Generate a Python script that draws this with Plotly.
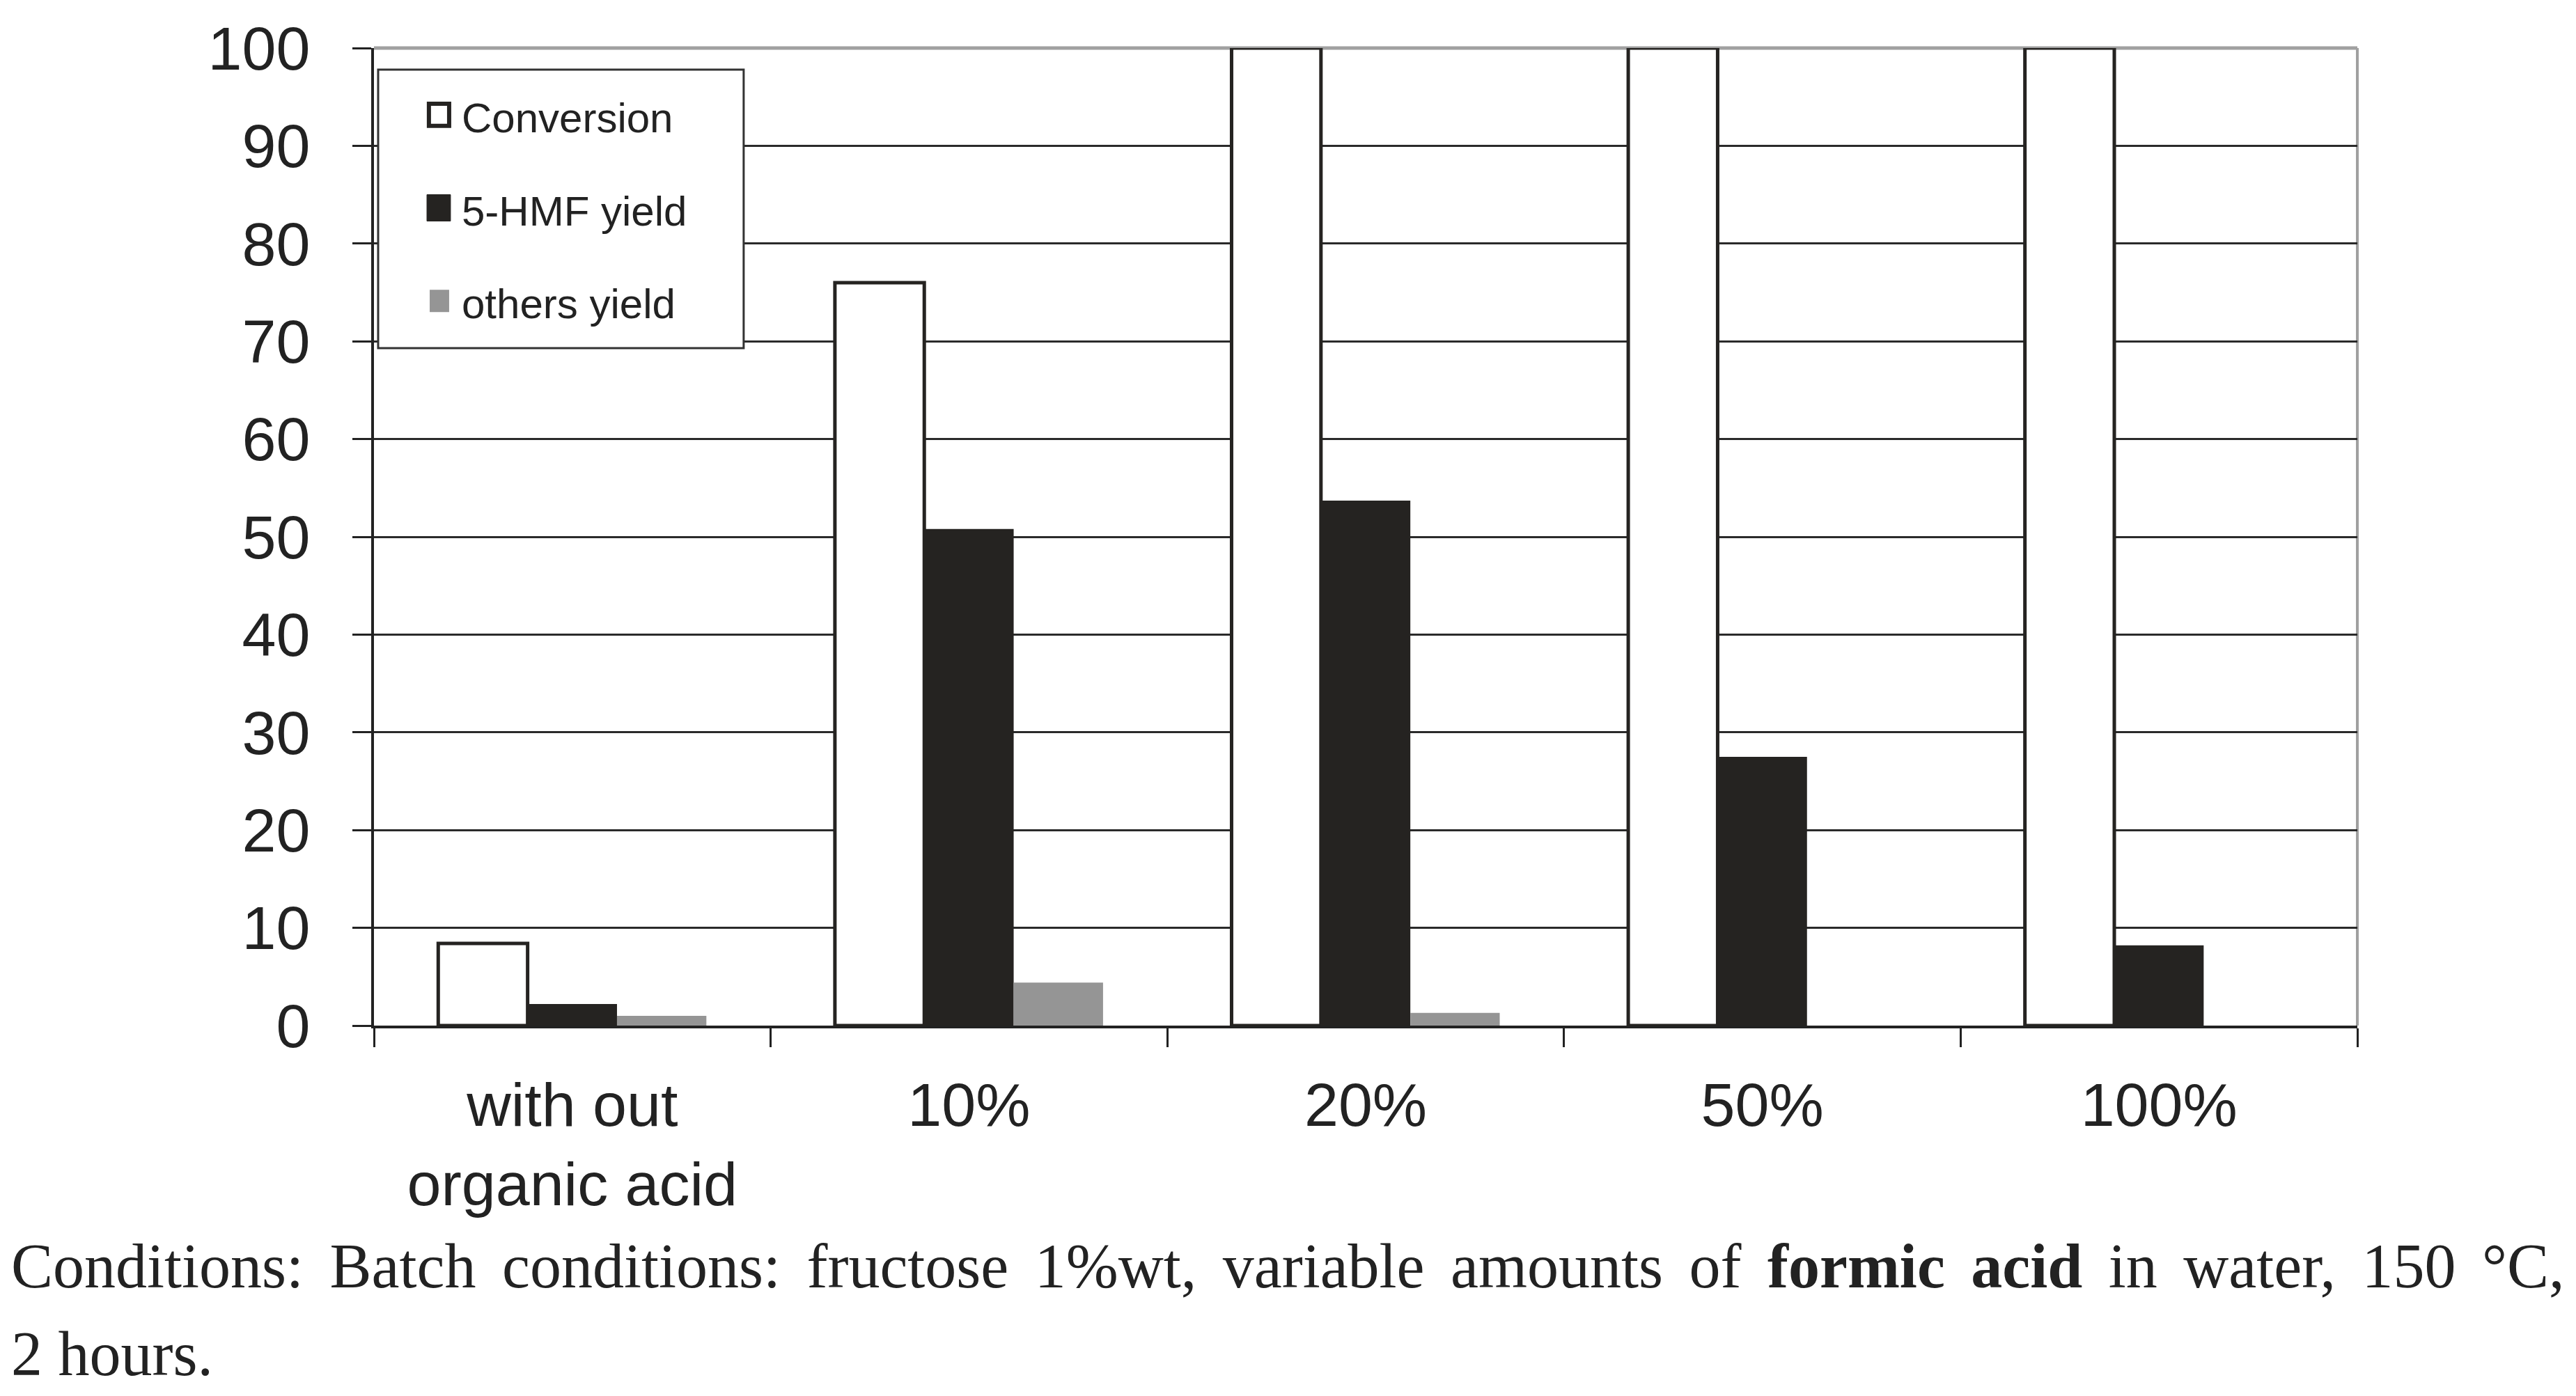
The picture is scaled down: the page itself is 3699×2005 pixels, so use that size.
import plotly.graph_objects as go

# ---- data ----
categories = ["with out<br>organic acid", "10%", "20%", "50%", "100%"]
series_names = ["Conversion", "5-HMF yield", "others yield"]
conversion = [8.4, 76.0, 100.0, 100.0, 100.0]
hmf_yield = [2.2, 50.8, 53.7, 27.5, 8.2]
others_yield = [1.0, 4.4, 1.3, 0.0, 0.0]
y_ticks = [0, 10, 20, 30, 40, 50, 60, 70, 80, 90, 100]
grid_vals = [10, 20, 30, 40, 50, 60, 70, 80, 90]
caption_line1 = ("Conditions: Batch conditions: fructose 1%wt, variable amounts of "
                 "<b>formic acid</b> in water, 150 °C,")
caption_line2 = "2 hours."

DARK = "#252321"
GRAY = "#959595"
INK = "#222222"

fig = go.Figure()
fig.add_trace(go.Bar(name=series_names[0], x=categories, y=conversion,
                     marker=dict(color="white", line=dict(color=DARK, width=5)),
                     cliponaxis=False, showlegend=False))
fig.add_trace(go.Bar(name=series_names[1], x=categories, y=hmf_yield,
                     marker=dict(color=DARK, line=dict(color=DARK, width=0)),
                     showlegend=False))
fig.add_trace(go.Bar(name=series_names[2], x=categories, y=others_yield,
                     marker=dict(color=GRAY, line=dict(width=0)),
                     showlegend=False))

tick_font = dict(family="Liberation Sans, Arial, sans-serif", size=88, color=INK)

# the page body adds an 8px margin, so the figure is 16px smaller than the window
fig.update_layout(
    width=3683, height=1989,
    margin=dict(l=529, r=306, t=58, b=524),
    paper_bgcolor="white", plot_bgcolor="white",
    barmode="group", bargap=0.324, bargroupgap=0,
    showlegend=False,
    xaxis=dict(type="category", tickson="boundaries", ticks="outside",
               ticklen=27, tickwidth=3, tickcolor=INK,
               showline=True, linecolor=INK, linewidth=4,
               showgrid=False, tickfont=tick_font, ticklabelstandoff=34),
    yaxis=dict(range=[0, 100], tickmode="array", tickvals=y_ticks, ticks="outside",
               ticklen=27, tickwidth=3, tickcolor=INK,
               showline=True, linecolor=INK, linewidth=4,
               showgrid=False, zeroline=False, tickfont=tick_font,
               ticklabelstandoff=43,
               minor=dict(tickmode="array", tickvals=grid_vals, ticks="",
                          showgrid=True, gridcolor="#2a2a2a", gridwidth=3)),
)

# plot border (top / right, gray) below the bars
fig.add_shape(type="line", xref="paper", yref="paper", x0=0, x1=1, y0=1, y1=1,
              line=dict(color="#a0a0a0", width=5), layer="below")
fig.add_shape(type="line", xref="paper", yref="paper", x0=1, x1=1, y0=0, y1=1,
              line=dict(color="#a0a0a0", width=4), layer="below")

# legend box (drawn manually to match the large symbols)
fig.add_shape(type="rect", xref="paper", yref="paper",
              x0=0.0021, x1=0.1864, y0=0.6930, y1=0.9780,
              line=dict(color="#333333", width=3), fillcolor="white", layer="above")
legend_symbols = [
    dict(x0=0.0277, x1=0.0379, y0=0.9204, y1=0.9431, fillcolor="white", line=dict(color=DARK, width=6)),
    dict(x0=0.0267, x1=0.0386, y0=0.8230, y1=0.8500, fillcolor=DARK, line=dict(color=DARK, width=1)),
    dict(x0=0.0281, x1=0.0379, y0=0.7299, y1=0.7527, fillcolor=GRAY, line=dict(width=0)),
]
for s in legend_symbols:
    fig.add_shape(type="rect", xref="paper", yref="paper", layer="above", **s)
legend_y = [0.9285, 0.8330, 0.7385]
for name, yy in zip(series_names, legend_y):
    fig.add_annotation(xref="paper", yref="paper", x=0.0435, y=yy,
                       xanchor="left", yanchor="middle", showarrow=False, text=name,
                       font=dict(family="Liberation Sans, Arial, sans-serif", size=60, color=INK))

# caption (justified look via slightly wider word spacing)
cap_font = dict(family="Liberation Serif, Times New Roman, serif", size=90, color=INK)
fig.add_annotation(xref="paper", yref="paper", x=-0.1836, y=-0.2459, xanchor="left",
                   yanchor="middle", showarrow=False,
                   text=caption_line1.replace(" ", " \u2006"), font=cap_font)
fig.add_annotation(xref="paper", yref="paper", x=-0.1836, y=-0.3355, xanchor="left",
                   yanchor="middle", showarrow=False, text=caption_line2, font=cap_font)

fig.write_html("out.html")
